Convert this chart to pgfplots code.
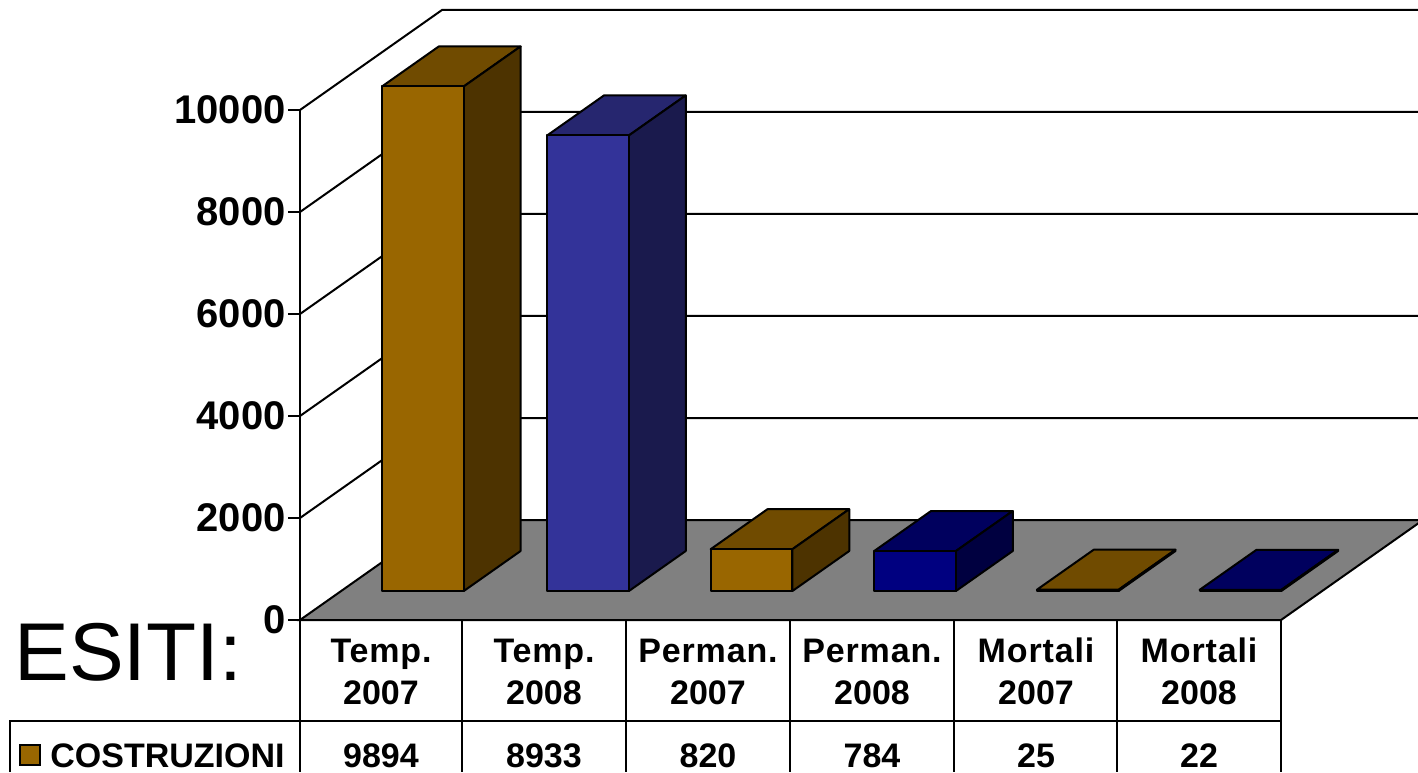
\documentclass[border=0pt]{standalone}
\usepackage{pgfplots}
\pgfplotsset{compat=1.18}
\usepackage{fontspec}
\setmainfont{Liberation Sans}

\definecolor{brownF}{HTML}{996600}
\definecolor{brownS}{HTML}{4D3300}
\definecolor{brownT}{HTML}{704B00}
\definecolor{blueF}{HTML}{333399}
\definecolor{blueS}{HTML}{1A1A4D}
\definecolor{blueT}{HTML}{26266F}
\definecolor{navyF}{HTML}{000080}
\definecolor{navyS}{HTML}{000040}
\definecolor{navyT}{HTML}{00005E}

% one 3D bar: x0, x1, value, front/side/top colours
\newcommand{\barthree}[6]{
  \addplot3[draw=black,line width=1pt,line join=round,fill=#6] coordinates {(#1,0.29,#3) (#2,0.29,#3) (#2,0.69,#3) (#1,0.69,#3)} --cycle;
  \addplot3[draw=black,line width=1pt,line join=round,fill=#5] coordinates {(#2,0.29,0) (#2,0.69,0) (#2,0.69,#3) (#2,0.29,#3)} --cycle;
  \addplot3[draw=black,line width=1pt,line join=round,fill=#4] coordinates {(#1,0.29,0) (#2,0.29,0) (#2,0.29,#3) (#1,0.29,#3)} --cycle;
}
% wall line at one tick height
\newcommand{\wallline}[1]{
  \addplot3[black,line width=1pt] coordinates {(0,0,#1) (0,1,#1) (6,1,#1)};
}
\newcommand{\tablefont}{\fontsize{17}{19}\selectfont\bfseries\addfontfeature{LetterSpace=2.5}}
\newcommand{\numfont}{\fontsize{17}{19}\selectfont\bfseries}

\begin{document}
\begin{tikzpicture}
\clip (0,0) rectangle (709pt,386pt);
\begin{axis}[
  at={(150pt,76pt)},
  anchor=origin,
  x={(81.75pt,0pt)},
  y={(71pt,50pt)},
  z={(0pt,0.0255pt)},
  xmin=0,xmax=6,ymin=0,ymax=1,zmin=0,zmax=10000,
  clip=false,
  hide x axis,
  hide y axis,
  xtick=\empty,
  ytick=\empty,
  ztick={0,2000,4000,6000,8000,10000},
  z axis line style={draw=none},
  ztick style={draw=none},
  major tick length=0pt,
  scaled z ticks=false,
  zticklabel style={font=\fontsize{20}{22}\selectfont\bfseries,/pgf/number format/assume math mode=true,/pgf/number format/1000 sep={},inner sep=0pt,anchor=east,xshift=-7pt,yshift=0pt},
]
  % floor
  \addplot3[draw=black,line width=1pt,fill=black!50] coordinates {(0,0,0) (6,0,0) (6,1,0) (0,1,0)} --cycle;
  % front edge of the left wall
  \addplot3[black,line width=1pt] coordinates {(0,0,0) (0,0,10000)};
  % walls
  \wallline{2000}
  \wallline{4000}
  \wallline{6000}
  \wallline{8000}
  \wallline{10000}
  % bars
  \barthree{0.25}{0.75}{9894}{brownF}{brownS}{brownT}
  \barthree{1.26}{1.76}{8933}{blueF}{blueS}{blueT}
  \barthree{2.26}{2.76}{820}{brownF}{brownS}{brownT}
  \barthree{3.26}{3.76}{784}{navyF}{navyS}{navyT}
  \barthree{4.255}{4.755}{25}{brownF}{brownS}{brownT}
  \barthree{5.25}{5.75}{22}{navyF}{navyS}{navyT}
\end{axis}

% tick marks and data table, in image pixels
\begin{scope}[x=0.5pt,y=-0.5pt,shift={(0pt,386pt)}]
\foreach \y in {110,212,314,416,518,620}
  \draw[black,line width=1pt] (288,\y) -- (300,\y);
\draw[black,line width=1pt] (300,620) -- (300,772)
  (462,620) -- (462,772) (626,620) -- (626,772) (790,620) -- (790,772)
  (954,620) -- (954,772) (1117,620) -- (1117,772) (1281,620) -- (1281,772)
  (10,772) -- (10,721) -- (1281,721);
\foreach \x/\a/\b/\v in {381/Temp./2007/9894, 544/Temp./2008/8933, 708/Perman./2007/820,
    872/Perman./2008/784, 1036/Mortali/2007/25, 1199/Mortali/2008/22} {
  \node[font=\tablefont,inner sep=0pt,anchor=base] at (\x,662) {\a};
  \node[font=\numfont,inner sep=0pt,anchor=base] at (\x,704) {\b};
  \node[font=\numfont,inner sep=0pt,anchor=base] at (\x,767) {\v};
}
\draw[black,line width=1pt,fill=brownF] (20,745) rectangle (40,765);
\node[font=\numfont,inner sep=0pt,anchor=base west] at (50,767) {COSTRUZIONI};
\node[font=\fontsize{41}{44}\selectfont,inner sep=0pt,anchor=base west] at (14,680) {ESITI:};
\end{scope}
\end{tikzpicture}
\end{document}
